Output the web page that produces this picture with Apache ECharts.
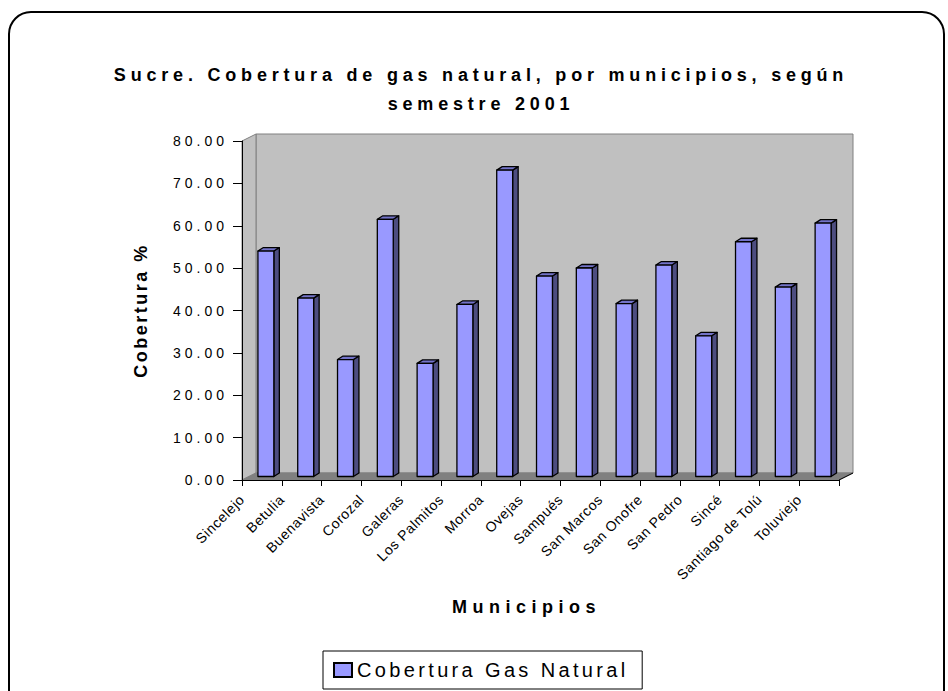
<!DOCTYPE html>
<html><head><meta charset="utf-8">
<script src="https://cdn.jsdelivr.net/npm/echarts@6/dist/echarts.min.js"></script>
<style>html,body{margin:0;padding:0;background:#fff}#c{width:948px;height:691px}</style>
</head><body><div id="c"></div>
<script>
const categories = ['Sincelejo','Betulia','Buenavista','Corozal','Galeras','Los Palmitos','Morroa','Ovejas','Sampués','San Marcos','San Onofre','San Pedro','Sincé','Santiago de Tolú','Toluviejo'];
const coverage = [53.2,42.1,27.6,60.7,26.7,40.6,72.3,47.3,49.2,40.8,49.9,33.2,55.4,44.7,59.8];
const yMin = 0, yMax = 80, yInterval = 10;
const titleLines = ['Sucre. Cobertura de gas natural, por municipios, según','semestre 2001'];
const seriesName = 'Cobertura Gas Natural';
const yName = 'Cobertura %';
const xName = 'Municipios';

const FONT = 'Liberation Sans, Arial, sans-serif';
const DEPTH = [14, -7];

const chart = echarts.init(document.getElementById('c'), null, {renderer: 'svg'});

function wallsRender(params, api) {
  const cs = params.coordSys;
  const x = cs.x, y = cs.y, w = cs.width, h = cs.height;
  const dx = DEPTH[0], dy = DEPTH[1];
  return {type: 'group', silent: true, children: [
    {type: 'rect', shape: {x: x + dx, y: y + dy, width: w, height: h}, style: {fill: '#c0c0c0', stroke: '#808080', lineWidth: 1}},
    {type: 'polygon', shape: {points: [[x, y], [x + dx, y + dy], [x + dx, y + h + dy], [x, y + h]]}, style: {fill: '#c0c0c0', stroke: '#808080', lineWidth: 1}},
    {type: 'polygon', shape: {points: [[x, y + h], [x + dx, y + h + dy], [x + w + dx, y + h + dy], [x + w, y + h]]}, style: {fill: '#808080', stroke: '#808080', lineWidth: 1}},
    {type: 'line', shape: {x1: x + w, y1: y + h, x2: x + w + dx, y2: y + h + dy}, style: {stroke: '#000', lineWidth: 1}}
  ]};
}

function barRender(params, api) {
  const i = api.value(0), v = api.value(1);
  const base = api.coord([i, 0]);
  const top = api.coord([i, v]);
  const band = api.size([1, 0])[0];
  const w = band * 0.4;
  const x0 = base[0] - band * 0.1;
  const mid = DEPTH[1] / 2;
  const yb = base[1] + mid, yt = top[1] + mid;
  const dx = 5.5, dy = -3.5;
  const st = {stroke: '#000', lineWidth: 1.3, lineJoin: 'round'};
  return {type: 'group', children: [
    {type: 'polygon', shape: {points: [[x0 + w, yb], [x0 + w + dx, yb + dy], [x0 + w + dx, yt + dy], [x0 + w, yt]]}, style: Object.assign({fill: '#4d4d80'}, st)},
    {type: 'polygon', shape: {points: [[x0, yt], [x0 + dx, yt + dy], [x0 + w + dx, yt + dy], [x0 + w, yt]]}, style: Object.assign({fill: '#7373c8'}, st)},
    {type: 'rect', shape: {x: x0, y: yt, width: w, height: yb - yt}, style: Object.assign({fill: '#9999ff'}, st)}
  ]};
}

const option = {
  animation: false,
  textStyle: {fontFamily: FONT, color: '#000'},
  graphic: [
    {type: 'rect', shape: {x: 9, y: 12, width: 935, height: 720, r: 22}, style: {fill: 'none', stroke: '#000', lineWidth: 2}, z: 0},
    {type: 'text', x: 481, y: 75, style: {text: titleLines[0], font: 'bold 18px ' + FONT, fill: '#000', textAlign: 'center', textVerticalAlign: 'middle'}},
    {type: 'text', x: 481, y: 104, style: {text: titleLines[1], font: 'bold 18px ' + FONT, fill: '#000', textAlign: 'center', textVerticalAlign: 'middle'}}
  ],
  grid: {left: 242, top: 141, right: 109, bottom: 211, containLabel: false},
  legend: {
    data: [{name: seriesName, icon: 'rect'}],
    left: 323, top: 651, itemWidth: 18, itemHeight: 14, itemGap: 0,
    padding: [9, 84, 9, 10], borderColor: '#000', borderWidth: 1,
    textStyle: {fontSize: 20, color: '#000', fontFamily: FONT}
  },
  xAxis: [
    {type: 'category', data: categories, boundaryGap: true, z: 5,
     axisLine: {lineStyle: {color: '#000', width: 1}},
     axisTick: {show: true, interval: 0, length: 6, lineStyle: {color: '#000'}},
     axisLabel: {show: false}, splitLine: {show: false},
     name: xName, nameLocation: 'middle', nameGap: 118,
     nameTextStyle: {fontSize: 18, fontWeight: 'bold', color: '#000', fontFamily: FONT, padding: [0, 28, 0, 0]}},
    {type: 'value', min: 0, max: categories.length, interval: 1, position: 'bottom',
     axisLine: {show: false}, axisTick: {show: false}, splitLine: {show: false},
     axisLabel: {rotate: 45, margin: 17, fontSize: 14, color: '#000', fontFamily: FONT,
       showMaxLabel: false, formatter: v => categories[v] || ''}}
  ],
  yAxis: {type: 'value', min: yMin, max: yMax, interval: yInterval, z: 5,
    axisLine: {show: true, lineStyle: {color: '#000', width: 1}},
    axisTick: {show: true, length: 9, lineStyle: {color: '#000'}},
    axisLabel: {margin: 14, fontSize: 14, color: '#000', fontFamily: FONT, formatter: v => v.toFixed(2)},
    splitLine: {show: false},
    name: yName, nameLocation: 'middle', nameRotate: 90, nameGap: 92,
    nameTextStyle: {fontSize: 18, fontWeight: 'bold', color: '#000', fontFamily: FONT}},
  series: [
    {type: 'custom', name: 'walls', xAxisIndex: 0, yAxisIndex: 0, z: 1, silent: true,
     renderItem: wallsRender, data: [[0, 0]]},
    {type: 'custom', name: seriesName, xAxisIndex: 0, yAxisIndex: 0, z: 2,
     itemStyle: {color: '#9999ff', borderColor: '#000', borderWidth: 1},
     renderItem: barRender, encode: {x: 0, y: 1},
     data: categories.map((c, i) => [i, coverage[i]])}
  ]
};
chart.setOption(option);

function applySpacing() {
  document.querySelectorAll('#c svg text').forEach(t => {
    const s = t.textContent;
    let ls = null;
    if (s === titleLines[0] || s === titleLines[1]) ls = 4.8;
    else if (s === seriesName) ls = 3.35;
    else if (s === yName) ls = 2.5;
    else if (s === xName) ls = 5.5;
    else if (categories.includes(s)) ls = 0.6;
    else if (/^\d+\.\d\d$/.test(s)) ls = 4;
    if (ls !== null) t.style.letterSpacing = ls + 'px';
  });
}
applySpacing();
chart.on('finished', applySpacing);
</script></body></html>
